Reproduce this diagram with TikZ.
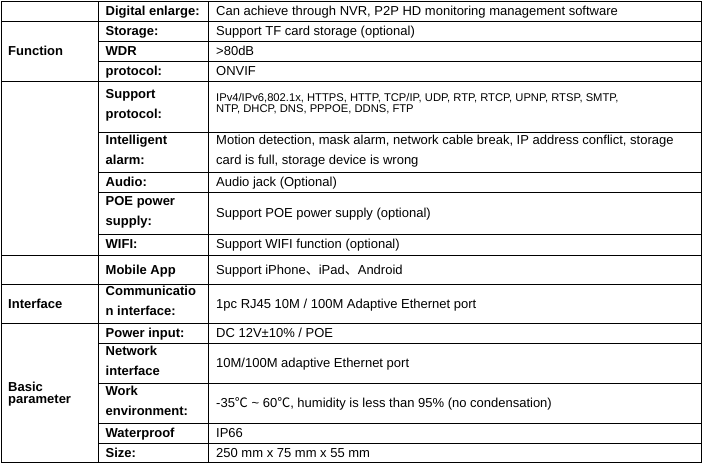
\documentclass[tikz,border=0pt]{standalone}
\usepackage{fontspec}
\setmainfont{Liberation Sans}
\newfontfamily\cjk{Noto Sans CJK SC}
\usetikzlibrary{positioning}
\tikzset{
  rule/.style={line width=0.9pt},
  cell/.style={anchor=west,inner sep=0pt,align=left},
  lab/.style={cell,font=\bfseries\fontsize{13}{20}\selectfont,
    execute at begin node=\strut,execute at end node=\strut},
  val/.style={cell,font=\fontsize{13}{20}\selectfont,
    execute at begin node=\strut,execute at end node=\strut},
  tightval/.style={cell,font=\fontsize{11.2}{10.8}\selectfont},
  tightlab/.style={cell,font=\bfseries\fontsize{13}{12.5}\selectfont},
}
\begin{document}
\begin{tikzpicture}[x=1pt,y=-1pt]
%
\useasboundingbox (0,0) rectangle (703,464);
%
\node[lab] (g1) at (8,51.3) {Function};
\node[lab] (g2) at (8,304) {Interface};
\node[tightlab] (g3) at (8,394) {Basic\\parameter};
%
\node[lab] (h1) at (105.5,11.2) {Digital enlarge:};
\node[lab] (h2) at (105.5,31.3) {Storage:};
\node[lab] (h3) at (105.5,51.3) {WDR};
\node[lab] (h4) at (105.5,71.3) {protocol:};
\node[lab] (h5) at (105.5,106.8) {Support\\protocol:};
\node[lab] (h6) at (105.5,152.3) {Intelligent\\alarm:};
\node[lab] (h7) at (105.5,182.4) {Audio:};
\node[lab] (h8) at (105.5,213.5) {POE power\\supply:};
\node[lab] (h9) at (105.5,244.9) {WIFI:};
\node[lab] (h10) at (105.5,270) {Mobile App};
\node[lab] (h11) at (105.5,304) {Communicatio\\n interface:};
\node[lab] (h12) at (105.5,333.3) {Power input:};
\node[lab] (h13) at (105.5,363.3) {Network\\interface};
\node[lab] (h14) at (105.5,403.3) {Work\\environment:};
\node[lab] (h15) at (105.5,433.3) {Waterproof};
\node[lab] (h16) at (105.5,453) {Size:};
%
\node[val] (v1) at (216,11.2) {Can achieve through NVR, P2P HD monitoring management software};
\node[val] (v2) at (216,31.3) {Support TF card storage (optional)};
\node[val] (v3) at (216,51.3) {>80dB};
\node[val] (v4) at (216,71.3) {ONVIF};
\node[tightval] (v5) at (216,103.5) {IPv4/IPv6,802.1x, HTTPS, HTTP, TCP/IP, UDP, RTP, RTCP, UPNP, RTSP, SMTP,\\NTP, DHCP, DNS, PPPOE, DDNS, FTP};
\node[val] (v6) at (216,152.3) {Motion detection, mask alarm, network cable break, IP address conflict, storage\\card is full, storage device is wrong};
\node[val] (v7) at (216,182.4) {Audio jack (Optional)};
\node[val] (v8) at (216,213.5) {Support POE power supply (optional)};
\node[val] (v9) at (216,244.9) {Support WIFI function (optional)};
\node[val] (v10) at (216,270) {Support iPhone{\cjk 、}iPad{\cjk 、}Android};
\node[val] (v11) at (216,304) {1pc RJ45 10M / 100M Adaptive Ethernet port};
\node[val] (v12) at (216,333.3) {DC 12V±10\% / POE};
\node[val] (v13) at (216,363.3) {10M/100M adaptive Ethernet port};
\node[val] (v14) at (216,403.3) {-35{\cjk ℃} \textasciitilde{} 60{\cjk ℃}, humidity is less than 95\% (no condensation)};
\node[val] (v15) at (216,433.3) {IP66};
\node[val] (v16) at (216,453) {250 mm x 75 mm x 55 mm};
%
% full width rules
\draw[rule] (1,1) rectangle (701.5,462.7);
\draw[rule] (1,21.3) -- (701.5,21.3);
\draw[rule] (1,81.3) -- (701.5,81.3);
\draw[rule] (1,255.3) -- (701.5,255.3);
\draw[rule] (1,284.7) -- (701.5,284.7);
\draw[rule] (1,323.3) -- (701.5,323.3);
%
% rules inside the groups
\draw[rule] (98,41.3) -- (701.5,41.3);
\draw[rule] (98,61.3) -- (701.5,61.3);
\draw[rule] (98,132.3) -- (701.5,132.3);
\draw[rule] (98,172.3) -- (701.5,172.3);
\draw[rule] (98,192.5) -- (701.5,192.5);
\draw[rule] (98,234.5) -- (701.5,234.5);
\draw[rule] (98,343.3) -- (701.5,343.3);
\draw[rule] (98,383.3) -- (701.5,383.3);
\draw[rule] (98,423.3) -- (701.5,423.3);
\draw[rule] (98,443.3) -- (701.5,443.3);
%
% columns
\draw[rule] (98,1) -- (98,462.7);
\draw[rule] (208,1) -- (208,462.7);
%
\end{tikzpicture}
\end{document}
